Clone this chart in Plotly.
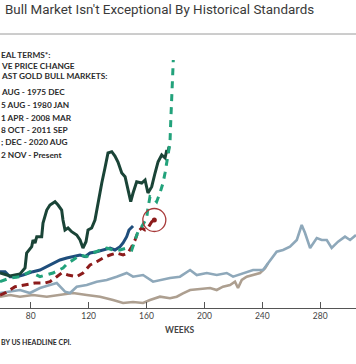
import plotly.graph_objects as go

# ---- data (weeks since start of bull market, real cumulative % change) ----
wk_7175 = [58.8, 65.7, 72.6, 76.1, 77.2, 80.7, 81.6, 83.0, 84.2, 87.6, 88.5, 91.1, 93.3, 96.8, 98.9,
           101.4, 102.3, 103.7, 105.8, 108.3, 111.8, 114.1, 116.1, 118.2, 119.6, 122.1, 124.4, 126.5,
           127.9, 129.1, 131.3, 132.5, 133.4, 136.0, 138.2, 140.3, 142.9, 145.2, 147.2, 149.1, 150.7,
           153.2, 156.7, 159.0, 161.0, 163.6, 165.9, 168.0, 170.5, 172.8, 174.0, 174.9, 175.5]
val_7175 = [54, 48, 52, 64, 94, 106.6, 120, 114, 126.6, 126.6, 154, 180, 190, 196.6, 190,
            180, 160, 140, 144, 136.6, 130, 120, 104, 116.6, 140, 144, 160, 196.6,
            214, 234, 264, 284, 294, 296.6, 288, 276, 254, 246.6, 220, 196.6, 214,
            236.6, 234, 240, 214, 226.6, 254, 276.6, 290, 284, 300, 294, 306.6]

wk_7680 = [58.8, 65.7, 72.6, 79.5, 86.4, 91.1, 95.4, 102.3, 105.8, 109.2, 114.1, 118.7, 123.0, 127.9,
           132.5, 136.9, 141.7, 146.3, 149.8, 152.1, 154.1, 156.7, 160.1, 161.0, 162.4, 164.5, 167.0,
           169.3, 171.4, 172.8, 174.0, 174.9, 176.2, 176.7, 177.4, 177.8, 178.5]
val_7680 = [36.6, 44, 46.6, 56.6, 46.6, 50, 54, 64, 74, 80, 90, 86.6, 94, 100,
            104, 100, 100, 104, 100, 120, 136.6, 146.6, 164, 184, 206.6, 204, 196.6,
            214, 234, 254, 274, 294, 314, 354, 394, 434, 480]

wk_0108 = [58.8, 65.7, 72.6, 79.5, 86.4, 93.3, 98.0, 103.7, 107.2, 111.8, 118.7, 125.6, 132.5, 139.4,
           146.3, 150.7, 157.6, 164.5, 169.3, 176.2, 183.1, 190.1, 194.7, 201.6, 208.5, 215.4, 219.8,
           226.7, 233.6, 240.5, 245.3, 249.9, 254.3, 259.1, 263.8, 267.2, 269.5, 273.0, 277.6, 281.0,
           284.5, 287.9, 292.3, 297.1, 300.6, 304.7]
val_0108 = [14, 16.6, 20, 14, 24, 30, 34, 16.6, 14, 26.6, 30, 36.6, 40, 46.6,
            54, 46.6, 50, 36.6, 40, 44, 46.6, 60, 50, 54, 50, 54, 46.6,
            54, 60, 60, 80, 96.6, 100, 106.6, 120, 150, 134, 104, 124, 120,
            120, 104, 116.6, 126.6, 120, 130]

wk_0811 = [58.8, 62.3, 65.7, 70.3, 74.7, 78.1, 81.6, 86.4, 91.1, 95.4, 100.2, 104.9, 109.2, 114.1,
           117.5, 121.0, 125.6, 130.0, 134.8, 138.2, 141.7, 143.8, 146.3, 147.9, 149.8, 150.7]
val_0811 = [56.6, 56.6, 46.6, 46.6, 50, 54, 56.6, 60, 66.6, 74, 80, 84, 86.6, 90,
            86.6, 94, 96.6, 100, 104, 100, 106.6, 114, 126.6, 140, 146.6, 148]

wk_1520 = [58.8, 65.7, 72.6, 81.6, 91.1, 100.2, 109.2, 118.7, 127.9, 136.9, 143.8, 150.7, 157.6,
           162.4, 169.3, 176.2, 180.9, 185.2, 190.1, 197.0, 203.9, 208.5, 212.8, 217.7, 221.1,
           223.2, 225.8, 229.2, 233.6, 238.4, 241.9, 243.9]
val_1520 = [6.6, 10, 6.6, 10, 6.6, 10, 14, 10, 6.6, 0, -6, -4, -6,
            0, 6.6, 3.4, 6.6, 13.4, 20, 22, 24, 20, 26.6, 30, 36.6,
            24, 40, 46.6, 50, 54, 63.4, 73.4]

wk_22 = [58.8, 62.3, 69.2, 76.1, 83.0, 89.9, 93.3, 98.0, 101.4, 105.8, 111.8, 116.1, 121.0, 125.6,
         130.0, 134.8, 139.4, 143.8, 147.2, 149.8, 152.1, 154.1, 156.7, 159.0, 161.0, 163.6, 165.4]
val_22 = [10, 14, 26.6, 30, 34, 34, 36.6, 46.6, 54, 50, 46.6, 54, 70, 76.6,
          84, 90, 94, 90, 94, 106.6, 120, 136.6, 144, 140, 144, 156.6, 160]

x_ticks = [80, 120, 160, 200, 240, 280]

title_text = "Bull Market Isn't Exceptional By Historical Standards"
legend_lines = ["EAL TERMS*:", "VE PRICE CHANGE", "AST GOLD BULL MARKETS:",
                "AUG - 1975 DEC", "5 AUG - 1980 JAN", "1 APR - 2008 MAR",
                "8 OCT - 2011 SEP", "; DEC - 2020 AUG", "2 NOV - Present"]
footnote = "BY US HEADLINE CPI."

# ---- layout helpers ----
W, H = 356, 364
TOP, BOT = 50, 308
YMIN, YMAX = -16, 500


def py_paper(py):
    return (BOT - py) / (BOT - TOP)


fig = go.Figure()

series = [
    (wk_1520, val_1520, "#ad9f90", 2.6, None),
    (wk_0108, val_0108, "#8ea8ba", 2.6, None),
    (wk_0811, val_0811, "#1f4e7c", 3.0, None),
    (wk_7175, val_7175, "#1a4437", 3.0, None),
    (wk_22, val_22, "#8c1b1b", 3.0, "7px,5px"),
    (wk_7680, val_7680, "#22a27b", 3.0, "7px,6px"),
]
for xs, ys, col, lw, dash in series:
    fig.add_trace(go.Scatter(x=xs, y=ys, mode="lines",
                             line=dict(color=col, width=lw, dash=dash, shape="linear"),
                             hoverinfo="skip", showlegend=False))

# highlight circle on latest point
fig.add_trace(go.Scatter(x=[wk_22[-1]], y=[val_22[-1]], mode="markers",
                         marker=dict(size=23, color="rgba(0,0,0,0)",
                                     line=dict(color="#a83a3a", width=1.3)),
                         hoverinfo="skip", showlegend=False))
fig.add_trace(go.Scatter(x=[wk_22[-1]], y=[val_22[-1]], mode="markers",
                         marker=dict(size=5, color="#8c1b1b"),
                         hoverinfo="skip", showlegend=False))

FONT = "Lato"
annos = []
annos.append(dict(text=title_text, x=3 / W, y=py_paper(10), xref="paper", yref="paper",
                  xanchor="left", yanchor="middle", showarrow=False,
                  font=dict(family="Roboto", size=13.4, color="#3a3a3a")))
legend_py = [55, 65.5, 76, 92, 104.5, 117.5, 130, 142, 155]
for txt, py in zip(legend_lines, legend_py):
    annos.append(dict(text="<b>" + txt + "</b>", x=-1 / W, y=py_paper(py), xref="paper", yref="paper",
                      xanchor="left", yanchor="middle", showarrow=False,
                      font=dict(family=FONT, size=8.3, color="#2b2b2b")))
annos.append(dict(text="<b>" + footnote + "</b>", x=-1 / W, y=py_paper(342), xref="paper", yref="paper",
                  xanchor="left", yanchor="middle", showarrow=False,
                  font=dict(family=FONT, size=7, color="#2b2b2b")))
annos.append(dict(text="<b>WEEKS</b>", x=180 / W, y=py_paper(330), xref="paper", yref="paper",
                  xanchor="center", yanchor="middle", showarrow=False,
                  font=dict(family=FONT, size=8.5, color="#444444")))
fig.update_layout(annotations=annos)

fig.add_shape(type="line", xref="paper", yref="paper", x0=0, x1=1,
              y0=py_paper(34), y1=py_paper(34), line=dict(color="#9a9a9a", width=1))

fig.update_layout(
    width=W, height=H,
    margin=dict(l=0, r=0, t=TOP, b=H - BOT),
    paper_bgcolor="white", plot_bgcolor="white",
    xaxis=dict(range=[58.8, 304.7], tickvals=x_ticks, ticks="inside", ticklen=6,
               tickcolor="#555555", tickwidth=1, showline=True, linecolor="#555555",
               linewidth=1, showgrid=False, zeroline=False,
               tickfont=dict(family=FONT, size=8.5, color="#444444")),
    yaxis=dict(range=[YMIN, YMAX], visible=False, showgrid=False, zeroline=False),
)

fig.write_html("out.html", config={"displayModeBar": False},
               post_script="document.body.style.margin='0px';")
